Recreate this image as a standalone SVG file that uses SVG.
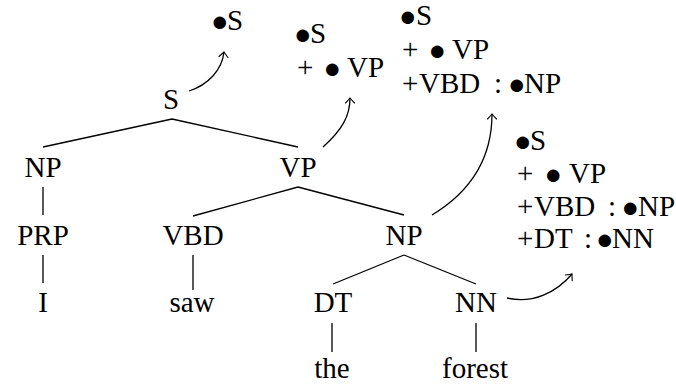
<svg xmlns="http://www.w3.org/2000/svg" width="676" height="384" viewBox="0 0 676 384">
<defs>
<marker id="to" viewBox="-6 -6 8 12" markerWidth="8" markerHeight="12" refX="0" refY="0" orient="auto" markerUnits="userSpaceOnUse">
<path d="M-5,-4.5 Q-1.5,-1.2 0,0 Q-1.5,1.2 -5,4.5" fill="none" stroke="#000" stroke-width="1.1" stroke-linecap="round"/>
</marker>
</defs>
<style>
text{font-family:"Liberation Serif","Times New Roman",serif;font-size:29px;fill:#000}
.n{text-anchor:middle}
.b{font-size:29px}
.e{stroke:#000;stroke-width:1.3;fill:none}
.a{stroke:#000;stroke-width:1.3;fill:none;marker-end:url(#to)}
</style>
<rect width="676" height="384" fill="#fff"/>
<g id="connectors">
<path class="e" d="M172,119 L43,147 M172,119 L298,147"/>
<path class="e" d="M43,187 V215 M43,255 V283"/>
<path class="e" d="M298,187 L193,216 M298,187 L404,215"/>
<path class="e" d="M193,255 V290"/>
<path class="e" d="M404,255 L333,284 M404,255 L476,284"/>
<path class="e" d="M332,323 V352 M476,323 V352"/>
<path class="a" d="M189,91 C208,85 222,70 224,52"/>
<path class="a" d="M323,147 C342,130 350,116 350,98"/>
<path class="a" d="M432,215 C470,192 492,160 492,114"/>
<path class="a" d="M507,298 C532,304 556,293 572,274"/>
</g>
<g id="S"><text class="n" x="171" y="109">S</text></g>
<g id="NP1"><text class="n" x="43" y="177">NP</text></g>
<g id="VP"><text class="n" x="298" y="177">VP</text></g>
<g id="PRP"><text class="n" x="43" y="245">PRP</text></g>
<g id="VBD"><text class="n" x="193" y="245">VBD</text></g>
<g id="NP2"><text class="n" x="404" y="245">NP</text></g>
<g id="I"><text class="n" x="43" y="312">I</text></g>
<g id="saw"><text class="n" x="192" y="312">saw</text></g>
<g id="DT"><text class="n" x="333" y="312">DT</text></g>
<g id="NN"><text class="n" x="476" y="312">NN</text></g>
<g id="the"><text class="n" x="332" y="378">the</text></g>
<g id="forest"><text class="n" x="475" y="378">forest</text></g>
<g id="state1"><text y="30"><tspan class="b" x="211" y="31">●</tspan><tspan x="227" y="30">S</tspan></text></g>
<g id="state2">
<text y="43"><tspan class="b" x="294" y="44">●</tspan><tspan x="310" y="43">S</tspan></text>
<text y="77"><tspan x="297">+</tspan><tspan class="b" x="323.5" y="78">●</tspan><tspan x="347" y="77">VP</tspan></text>
</g>
<g id="state3">
<text y="25"><tspan class="b" x="399" y="26">●</tspan><tspan x="416" y="25">S</tspan></text>
<text y="59"><tspan x="402">+</tspan><tspan class="b" x="428.5" y="60">●</tspan><tspan x="452" y="59">VP</tspan></text>
<text y="93"><tspan x="402">+</tspan><tspan x="419">VBD</tspan><tspan x="494">:</tspan><tspan class="b" x="508" y="94">●</tspan><tspan x="524" y="93">NP</tspan></text>
</g>
<g id="state4">
<text y="150"><tspan class="b" x="514" y="151">●</tspan><tspan x="530" y="150">S</tspan></text>
<text y="183"><tspan x="517">+</tspan><tspan class="b" x="544.5" y="184">●</tspan><tspan x="569" y="183">VP</tspan></text>
<text y="216"><tspan x="517">+</tspan><tspan x="534">VBD</tspan><tspan x="608">:</tspan><tspan class="b" x="621.5" y="217">●</tspan><tspan x="638" y="216">NP</tspan></text>
<text y="248"><tspan x="517">+</tspan><tspan x="534">DT</tspan><tspan x="584">:</tspan><tspan class="b" x="596" y="249">●</tspan><tspan x="612" y="248">NN</tspan></text>
</g>
</svg>
